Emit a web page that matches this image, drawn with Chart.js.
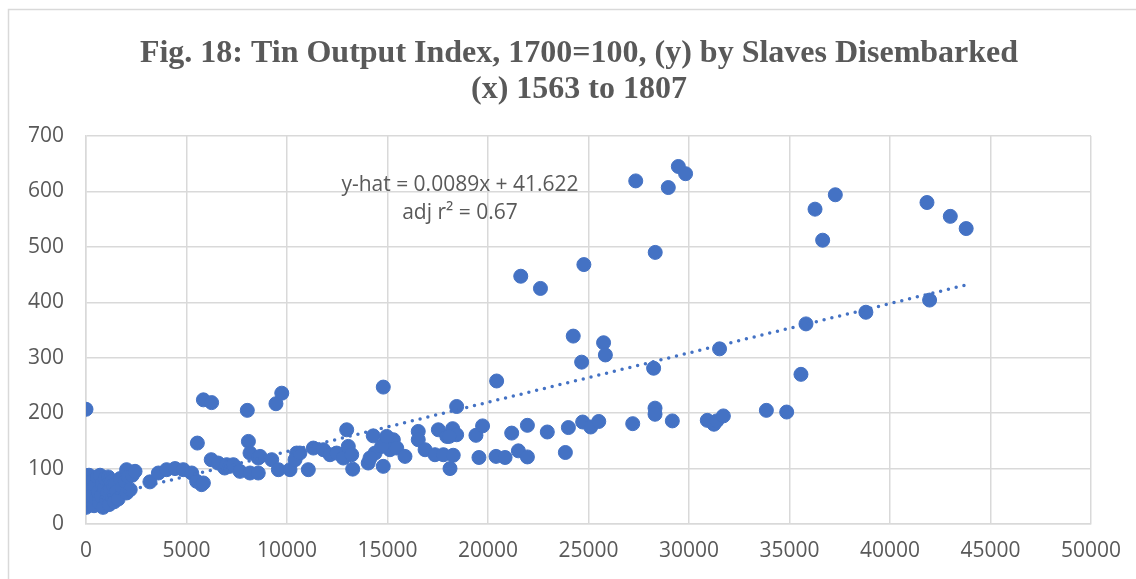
<!DOCTYPE html>
<html><head><meta charset="utf-8">
<script src="https://cdn.jsdelivr.net/npm/chart.js@4/dist/chart.umd.min.js"></script>
<style>html,body{margin:0;padding:0;background:#fff;overflow:hidden}</style>
</head><body>
<canvas id="c" width="1136" height="579"></canvas>
<script>
const titleLines = ["Fig. 18: Tin Output Index, 1700=100, (y) by Slaves Disembarked", "(x) 1563 to 1807"];
const eqLines = ["y-hat = 0.0089x + 41.622", "adj r\u00B2 = 0.67"];
const slavesX = [
0,0,0,0,0,0,0,0,0,0,0,0,0,0,0,
150,200,250,300,350,400,450,500,550,600,650,700,750,800,850,900,950,1000,1050,1100,1150,1190,1200,1250,1300,1350,1400,1440,1500,1600,1700,1800,1940,2020,2020,2100,2200,2300,2440,
3180,3600,4010,4430,4840,5260,5505,5750,5840,5540,5840,6250,6230,6570,6900,7000,7160,7330,7660,
8025,8080,8160,8570,8160,8570,8660,9240,9450,9740,9570,10150,10480,10400,10640,11060,11310,11810,12140,12470,
12970,12800,13050,13220,13270,14040,14290,14380,14790,14790,14960,15290,15120,15460,15870,14710,14130,14960,
16530,16530,16870,17530,17950,17360,17780,18110,18240,18440,18070,18440,18270,19400,19730,19550,20400,20850,20430,
21180,21510,21960,21960,22950,21630,22610,23850,24000,24240,24660,24770,24710,25110,25510,25750,25840,
27200,27350,28240,28310,28310,28320,28970,29170,29470,29830,30910,31240,31380,31710,31520,33850,34860,
35570,35820,36270,36650,37280,38800,41840,41970,43000,43790];
const tinY = [
207,87,83,78,73,68,63,58,53,48,44,40,36,33,30,
88,62,40,52,78,33,70,45,85,58,38,88,50,72,30,65,82,45,55,85,35,80,62,76,48,70,40,71,58,45,82,65,77,98,56,85,62,88,95,
76,92,98,100,98,92,77,71,74,146,224,219,116,110,101,107,104,107,95,
205,149,128,119,92,92,122,116,217,236,98,98,128,116,128,98,137,134,125,128,
170,119,140,125,99,110,159,128,247,104,152,152,134,137,122,140,119,158,
167,152,134,170,158,125,125,100,172,161,158,212,124,160,177,120,122,120,258,
164,132,178,121,166,447,425,129,174,339,292,468,184,175,185,327,305,
181,619,281,209,198,490,607,186,645,632,187,180,186,195,316,205,202,
270,361,568,512,594,382,580,404,555,533];
const trendX = [0, 43790];
const trendY = [41.6, 431.4];
const xMin = 0, xMax = 50000, xStep = 5000;
const yMin = 0, yMax = 700, yStep = 100;

const BLUE = '#4472C4';
const GRAY = '#595959';

const points = slavesX.map((x, i) => ({x: x, y: tinY[i]}));
const trend = trendX.map((x, i) => ({x: x, y: trendY[i]}));

const deco = {
  id: 'deco',
  beforeDraw(chart) {
    const ctx = chart.ctx;
    ctx.save();
    ctx.fillStyle = '#fff';
    ctx.fillRect(0, 0, chart.width, chart.height);
    ctx.strokeStyle = '#d9d9d9';
    ctx.lineWidth = 1.5;
    ctx.strokeRect(8.5, 9.5, 1200, 700);
    ctx.fillStyle = GRAY;
    ctx.textAlign = 'center';
    ctx.textBaseline = 'alphabetic';
    ctx.font = "bold 32px 'Liberation Serif'";
    ctx.fillText(titleLines[0], 579, 62);
    ctx.fillText(titleLines[1], 579, 98);
    ctx.restore();
  },
  afterDraw(chart) {
    const ctx = chart.ctx;
    ctx.save();
    ctx.fillStyle = GRAY;
    ctx.textAlign = 'center';
    ctx.textBaseline = 'middle';
    ctx.font = "21px 'Open Sans'";
    ctx.fillText(eqLines[0], 460, 185);
    ctx.fillText(eqLines[1], 460, 213);
    ctx.restore();
  }
};

new Chart(document.getElementById('c'), {
  type: 'scatter',
  data: {
    datasets: [
      {
        type: 'line',
        data: trend,
        borderColor: BLUE,
        borderWidth: 3.5,
        borderDash: [0, 8],
        borderCapStyle: 'round',
        pointRadius: 0,
        fill: false,
        tension: 0
      },
      {
        data: points,
        backgroundColor: BLUE,
        borderColor: BLUE,
        borderWidth: 1,
        pointRadius: 7,
        pointHoverRadius: 7
      }
    ]
  },
  options: {
    responsive: false,
    animation: false,
    devicePixelRatio: 1,
    layout: {padding: {left: 0, right: 45, top: 136, bottom: 0}},
    plugins: {legend: {display: false}, tooltip: {enabled: false}, title: {display: false}},
    scales: {
      x: {
        type: 'linear', min: xMin, max: xMax,
        afterFit(s) { s.height = 55; },
        ticks: {stepSize: xStep, color: GRAY, font: {family: 'Open Sans', size: 21}, padding: 14, maxRotation: 0,
                callback: (v) => String(v)},
        grid: {color: '#d9d9d9', lineWidth: 1.5, drawTicks: false},
        border: {color: '#d9d9d9', width: 1.5}
      },
      y: {
        type: 'linear', min: yMin, max: yMax,
        afterFit(s) { s.width = 86; },
        ticks: {stepSize: yStep, color: GRAY, font: {family: 'Open Sans', size: 21}, padding: 22,
                callback: (v) => String(v)},
        grid: {color: '#d9d9d9', lineWidth: 1.5, drawTicks: false},
        border: {color: '#d9d9d9', width: 1.5}
      }
    }
  },
  plugins: [deco]
});
</script>
</body></html>
